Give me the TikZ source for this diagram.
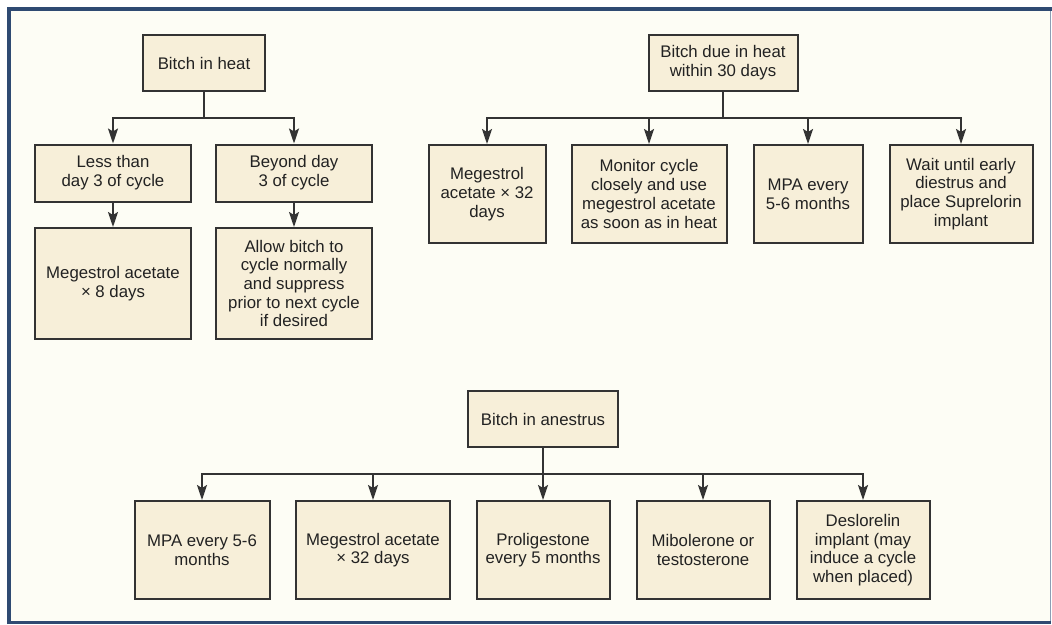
\documentclass[tikz,border=0pt]{standalone}
\usepackage{fontspec}
\setmainfont{Liberation Sans}
\usetikzlibrary{arrows.meta}
\definecolor{pagebg}{HTML}{FDFDF5}
\definecolor{boxfill}{HTML}{F7EFD9}
\definecolor{boxline}{HTML}{333333}
\definecolor{inkcol}{HTML}{222222}
\definecolor{framedark}{HTML}{2F4A72}
\definecolor{framelight}{HTML}{8C9DB4}
\tikzset{
  stepbox/.style={draw=boxline, fill=boxfill, line width=2pt, inner sep=0pt,
    align=center, text=inkcol, font=\fontsize{16.8}{18.7}\selectfont},
  flowarrow/.style={draw=boxline, line width=2pt,
    -{Stealth[length=15pt,width=10pt,inset=3pt]}},
  flowline/.style={draw=boxline, line width=2pt}
}
\begin{document}
\begin{tikzpicture}[x=1pt,y=-1pt]
  % page and frame
  \fill[white] (0,0) rectangle (1052,624);
  \useasboundingbox (0,0) rectangle (1052,624);
  \fill[pagebg] (9,9) rectangle (1050,622);
  \draw[framelight, line width=1.5pt] (1050.5,9) -- (1050.5,622);
  \draw[framedark, line width=2.5pt] (9,622.5) -- (1051,622.5);
  \draw[framedark, line width=4pt] (9,624) -- (9,9) -- (1052,9);

  % bitch in heat
  \node[stepbox, minimum width=122pt, minimum height=56pt] (heat) at (204,63) {Bitch in heat};
  \node[stepbox, minimum width=156pt, minimum height=57pt] (less) at (113,173) {Less than\\day 3 of cycle};
  \node[stepbox, minimum width=156pt, minimum height=57pt] (beyond) at (294,173) {Beyond day\\3 of cycle};
  \node[stepbox, minimum width=156pt, minimum height=111pt] (mega8) at (113,283.5) {Megestrol acetate\\× 8 days};
  \node[stepbox, minimum width=156pt, minimum height=111pt] (allow) at (294,283.5) {Allow bitch to\\cycle normally\\and suppress\\prior to next cycle\\if desired};
  \coordinate (busL) at (0,118);
  \draw[flowline] (heat.south) -- (heat.south |- busL);
  \draw[flowarrow] (heat.south |- busL) -| (less.north);
  \draw[flowarrow] (heat.south |- busL) -| (beyond.north);
  \draw[flowarrow] (less.south) -- (mega8.north);
  \draw[flowarrow] (beyond.south) -- (allow.north);

  % bitch due in heat
  \node[stepbox, minimum width=149pt, minimum height=56pt] (due) at (723,63) {Bitch due in heat\\within 30 days};
  \node[stepbox, minimum width=117pt, minimum height=98pt] (r1) at (487,194) {Megestrol\\acetate × 32\\days};
  \node[stepbox, minimum width=155pt, minimum height=98pt] (r2) at (649,194) {Monitor cycle\\closely and use\\megestrol acetate\\as soon as in heat};
  \node[stepbox, minimum width=109pt, minimum height=98pt] (r3) at (808,194) {MPA every\\5-6 months};
  \node[stepbox, minimum width=143pt, minimum height=98pt] (r4) at (961,194) {Wait until early\\diestrus and\\place Suprelorin\\implant};
  \coordinate (busR) at (0,118);
  \draw[flowline] (due.south) -- (due.south |- busR);
  \foreach \t in {r1,r2,r3,r4}
    \draw[flowarrow] (due.south |- busR) -| (\t.north);

  % bitch in anestrus
  \node[stepbox, minimum width=150pt, minimum height=56pt] (an) at (543,419) {Bitch in anestrus};
  \node[stepbox, minimum width=135pt, minimum height=98pt] (b1) at (202,550) {MPA every 5-6\\months};
  \node[stepbox, minimum width=154pt, minimum height=98pt] (b2) at (373,550) {Megestrol acetate\\× 32 days};
  \node[stepbox, minimum width=133pt, minimum height=98pt] (b3) at (543,550) {Proligestone\\every 5 months};
  \node[stepbox, minimum width=133pt, minimum height=98pt] (b4) at (703,550) {Mibolerone or\\testosterone};
  \node[stepbox, minimum width=133pt, minimum height=98pt] (b5) at (863,550) {Deslorelin\\implant (may\\induce a cycle\\when placed)};
  \coordinate (busB) at (0,474);
  \draw[flowline] (an.south) -- (an.south |- busB);
  \foreach \t in {b1,b2,b3,b4,b5}
    \draw[flowarrow] (an.south |- busB) -| (\t.north);
\end{tikzpicture}
\end{document}
